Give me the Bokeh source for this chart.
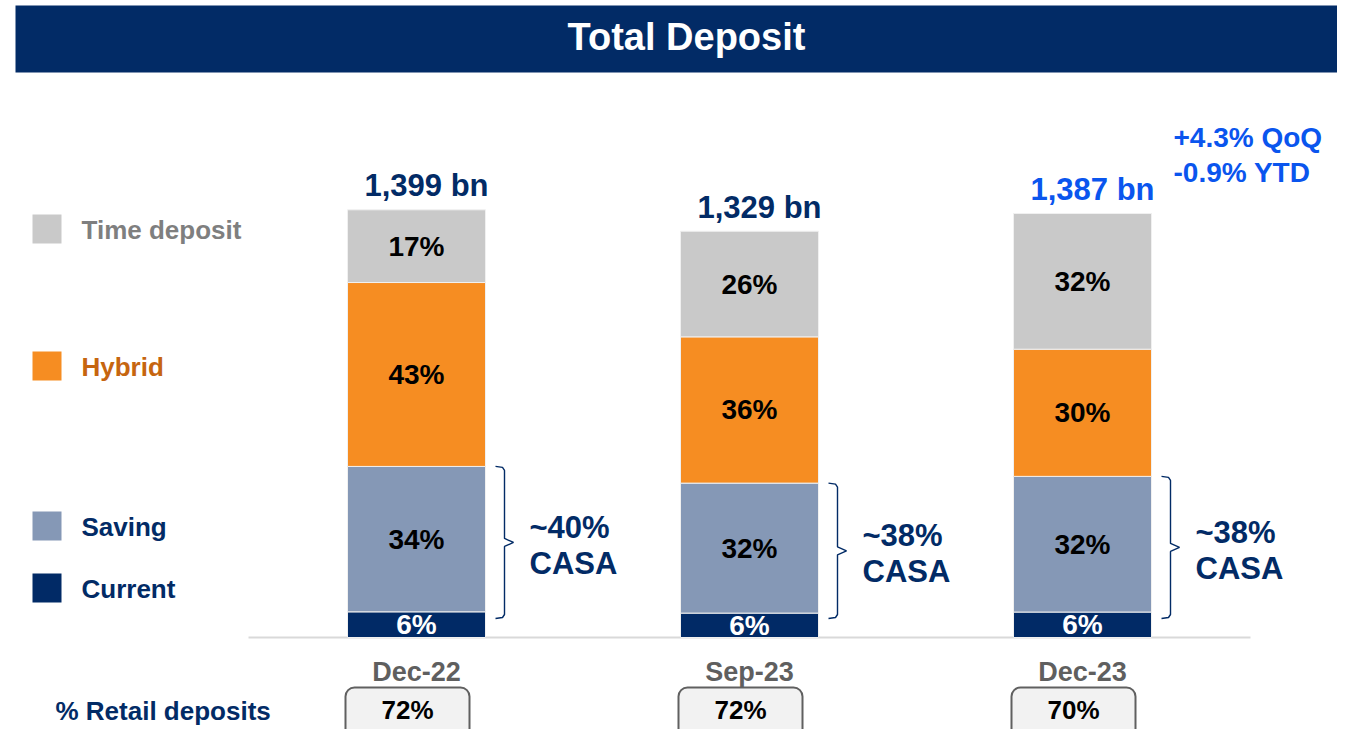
from bokeh.plotting import figure
from bokeh.models import Range1d, ColumnDataSource
from bokeh.core.properties import value
from bokeh.embed import file_html
from bokeh.resources import INLINE

# ---------------- data ----------------
categories = ["Dec-22", "Sep-23", "Dec-23"]
totals = [1399, 1329, 1387]
total_labels = ["1,399 bn", "1,329 bn", "1,387 bn"]
current_pct = [6, 6, 6]
saving_pct = [34, 32, 32]
hybrid_pct = [43, 36, 30]
time_pct = [17, 26, 32]
casa_labels = ["~40%", "~38%", "~38%"]
retail_labels = ["72%", "72%", "70%"]
growth_lines = ["+4.3% QoQ", "-0.9% YTD"]
series_names = ["Time deposit", "Hybrid", "Saving", "Current"]

# ---------------- styles ----------------
NAVY = "#022B66"
BLUE = "#0A55EE"
C_CUR = "#012A66"
C_SAV = "#8598B6"
C_HYB = "#F68D22"
C_TIM = "#C9C9C9"
FONT = value("Liberation Sans")

W, H = 1337, 729
X0 = 416               # canvas x of first category centre
DX = 333               # pixels between categories
BASE = 637             # canvas y (from top) of the baseline
K = 0.3057             # pixels per bn

def dx(cx):
    return (cx - X0) / DX

def dy(cy):
    return (BASE - cy) / K

def px(n):
    return n / DX

def py(n):
    return n / K

p = figure(width=W, height=H, output_backend="svg", toolbar_location=None,
           x_range=Range1d(-X0 / DX, (W - X0) / DX),
           y_range=Range1d(-(H - BASE) / K, BASE / K),
           x_axis_location=None, y_axis_location=None, min_border=0)
p.outline_line_color = None
p.grid.visible = False
p.background_fill_color = "white"

def txt(x, y, t, size, color, align="center", baseline="middle", **kw):
    p.text(x=x, y=y, text=t, text_font=FONT, text_font_style="bold",
           text_font_size=size, text_color=color, text_align=align,
           text_baseline=baseline, **kw)

# ---------------- header ----------------
p.quad(left=[dx(15)], right=[dx(1340)], top=[dy(5)], bottom=[dy(72)],
       fill_color=NAVY, line_color=None)
txt([dx(686)], [dy(36)], ["Total Deposit"], "38px", "white")

# ---------------- baseline ----------------
p.segment(x0=[dx(248)], x1=[dx(1250)], y0=[0], y1=[0], line_color="#D9D9D9", line_width=2)

# ---------------- bars ----------------
xs = list(range(len(categories)))
cur_v = [t * c / 100 for t, c in zip(totals, current_pct)]
sav_v = [t * c / 100 for t, c in zip(totals, saving_pct)]
hyb_v = [t * c / 100 for t, c in zip(totals, hybrid_pct)]
tim_v = [t * c / 100 for t, c in zip(totals, time_pct)]
src = ColumnDataSource(dict(x=xs, current=cur_v, saving=sav_v, hybrid=hyb_v, time=tim_v))
BW = px(138)
p.vbar_stack(["current", "saving", "hybrid", "time"], x="x", width=BW, source=src,
             fill_color=[C_CUR, C_SAV, C_HYB, C_TIM], line_color="#F0F0F0", line_width=1)

# segment labels
seg_x, seg_y, seg_t, seg_c = [], [], [], []
for i in xs:
    bottom = 0
    for vals, pcts, col in ((cur_v, current_pct, "white"), (sav_v, saving_pct, "black"),
                            (hyb_v, hybrid_pct, "black"), (tim_v, time_pct, "black")):
        seg_x.append(i)
        seg_y.append(bottom + vals[i] / 2)
        seg_t.append(f"{pcts[i]}%")
        seg_c.append(col)
        bottom += vals[i]
p.text(x=seg_x, y=seg_y, text=seg_t, text_color=seg_c, text_font=FONT,
       text_font_style="bold", text_font_size="28px", text_align="center",
       text_baseline="middle", y_offset=0)

# totals above bars
tot_colors = [NAVY, NAVY, BLUE]
p.text(x=xs, y=totals, text=total_labels, text_color=tot_colors, text_font=FONT,
       text_font_style="bold", text_font_size="31px", text_align="center",
       text_baseline="middle", x_offset=10, y_offset=-24)

# growth note
txt([dx(1173)] * 2, [dy(137), dy(172)], growth_lines, "28px", BLUE, align="left")

# ---------------- CASA brackets ----------------
bx, by = [], []
cx, cy1, cy2 = [], [], []
for i in xs:
    right = i + BW / 2
    sx, vx, tx = right + px(10), right + px(19), right + px(28)
    top = cur_v[i] + sav_v[i]
    bot = py(19)
    mid = (top + bot) / 2
    bx.append([sx, vx - px(2), vx, vx, tx, vx, vx, vx - px(2), sx])
    by.append([top, top - py(1), top - py(4), mid + py(4), mid, mid - py(4),
               bot + py(4), bot + py(1), bot])
    cx.append(tx + px(16))
    cy1.append(mid + py(15))
    cy2.append(mid - py(21))
p.multi_line(xs=bx, ys=by, line_color=NAVY, line_width=1.4)
txt(cx, cy1, casa_labels, "31px", NAVY, align="left")
txt(cx, cy2, ["CASA"] * len(xs), "31px", NAVY, align="left")

# ---------------- category labels ----------------
p.text(x=xs, y=[0] * len(xs), text=categories, text_color="#5F5F5F", text_font=FONT,
       text_font_style="bold", text_font_size="27px", text_align="center",
       text_baseline="middle", y_offset=34)

# ---------------- retail deposits row ----------------
txt([dx(55)], [dy(710)], ["% Retail deposits"], "26px", NAVY, align="left")
rl = [i - px(9) - px(62) for i in xs]
rr = [i - px(9) + px(62) for i in xs]
p.quad(left=rl, right=rr, top=[dy(687)] * len(xs), bottom=[dy(770)] * len(xs),
       fill_color="#F2F2F2", line_color="#606060", line_width=2, border_radius=9)
txt([i - px(9) for i in xs], [dy(709)] * len(xs), retail_labels, "26px", "black")

# ---------------- legend ----------------
leg_tops = [214, 351, 511, 573]
leg_cols = [C_TIM, C_HYB, C_SAV, C_CUR]
leg_txt_cols = ["#7F7F7F", "#C6650F", NAVY, NAVY]
p.quad(left=[dx(32)] * 4, right=[dx(61)] * 4, top=[dy(t) for t in leg_tops],
       bottom=[dy(t + 29) for t in leg_tops], fill_color=leg_cols, line_color=None)
p.text(x=[dx(81)] * 4, y=[dy(t + 15.5) for t in leg_tops], text=series_names,
       text_color=leg_txt_cols, text_font=FONT, text_font_style="bold",
       text_font_size="26px", text_align="left", text_baseline="middle")

open("out.html", "w").write(file_html(p, INLINE))
